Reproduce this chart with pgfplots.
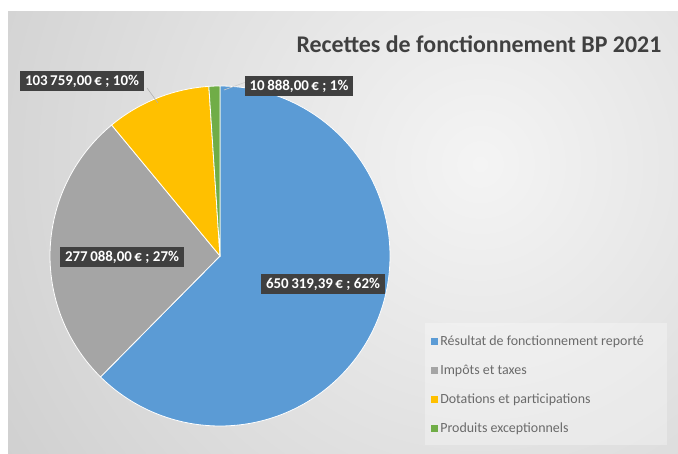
\documentclass[border=0pt]{standalone}
\usepackage{fontspec}
\setmainfont{Carlito}
\usepackage{pgfplots}
\usepackage{pgfplotstable}
\pgfplotsset{compat=1.18}

\definecolor{c0}{HTML}{5B9BD5}
\definecolor{c1}{HTML}{A5A5A5}
\definecolor{c2}{HTML}{FFC000}
\definecolor{c3}{HTML}{70AD47}
\definecolor{lblbg}{HTML}{404040}
\definecolor{txtgray}{HTML}{6A6A6A}
\definecolor{titlegray}{HTML}{404040}
\definecolor{bglight}{HTML}{F4F4F4}
\definecolor{bgdark}{HTML}{CCCCCC}

\pgfplotstableread[col sep=comma]{
name,value
Résultat de fonctionnement reporté,650319.39
Impôts et taxes,277088.00
Dotations et participations,103759.00
Produits exceptionnels,10888.00
}\recettes

% total, start/end angles (clockwise from 12 o'clock) and percentages
\def\total{0}
\pgfplotsforeachungrouped \i in {0,...,3}{%
  \pgfplotstablegetelem{\i}{value}\of\recettes
  \edef\total{\fpeval{\total+\pgfplotsretval}}%
}
\def\cum{0}
\pgfplotsforeachungrouped \i in {0,...,3}{%
  \expandafter\edef\csname angS\i\endcsname{\fpeval{90-360*\cum/\total}}%
  \pgfplotstablegetelem{\i}{value}\of\recettes
  \expandafter\let\csname val\i\endcsname\pgfplotsretval
  \expandafter\edef\csname pct\i\endcsname{\fpeval{round(100*\pgfplotsretval/\total)}}%
  \edef\cum{\fpeval{\cum+\pgfplotsretval}}%
  \expandafter\edef\csname angE\i\endcsname{\fpeval{90-360*\cum/\total}}%
}

\newcommand\lbl[1]{\pgfmathprintnumber[fixed,precision=2,fixed zerofill,use comma,1000 sep={\,},assume math mode=true]{\csname val#1\endcsname}\,€ ; \csname pct#1\endcsname\%}

\begin{document}
\begin{tikzpicture}
\begin{axis}[
    scale only axis,
    width=678bp, height=454bp,
    xmin=0, xmax=678, ymin=0, ymax=454,
    hide axis,
    clip=false,
    legend style={
        at={(axis description cs:0.627,0.278)}, anchor=north west,
        draw=none, fill=none,
        font=\fontsize{14}{16}\selectfont, text=txtgray,
        row sep=14bp, inner xsep=6bp, inner ysep=6bp,
        cells={anchor=west},
    },
]
% frame and background
\fill[white] (axis cs:0,0) rectangle (axis cs:678,454);
\path[path picture={\shade[inner color=bglight, outer color=bgdark] (axis cs:480,290) circle[radius=620bp];}]
    (axis cs:8,0) rectangle (axis cs:678,442);
\fill[white, opacity=0.3] (axis cs:425,9) rectangle (axis cs:667,131);

% slices
\pgfplotsinvokeforeach{0,...,3}{
  \fill[c#1, draw=white, line width=0.8bp] (axis cs:220,198)
      -- ++(\csname angS#1\endcsname:170bp)
      arc[start angle=\csname angS#1\endcsname, end angle=\csname angE#1\endcsname, radius=170bp]
      -- cycle;
}

% leader lines
\draw[gray!60, line width=0.6bp] (axis cs:147,366) -- (axis cs:158,351);
\draw[gray!40, line width=0.6bp] (axis cs:246,372) -- (axis cs:224,364);

% data labels
\tikzset{dlabel/.style={fill=lblbg, text=white, font=\fontsize{15}{16}\selectfont\bfseries, inner xsep=5bp, inner ysep=4bp}}
\node[dlabel] at (axis cs:323,170) {\lbl{0}};
\node[dlabel] at (axis cs:122,197) {\lbl{1}};
\node[dlabel] at (axis cs:82,373) {\lbl{2}};
\node[dlabel] at (axis cs:299,368) {\lbl{3}};

% title
\node[font=\fontsize{24}{28}\selectfont\bfseries, text=titlegray] at (axis cs:479,410) {Recettes de fonctionnement BP 2021};

% legend
\addlegendimage{legend image code/.code={\path[fill=c0, draw=none] (0bp,-3.5bp) rectangle (7bp,3.5bp);}}
\addlegendimage{legend image code/.code={\path[fill=c1, draw=none] (0bp,-3.5bp) rectangle (7bp,3.5bp);}}
\addlegendimage{legend image code/.code={\path[fill=c2, draw=none] (0bp,-3.5bp) rectangle (7bp,3.5bp);}}
\addlegendimage{legend image code/.code={\path[fill=c3, draw=none] (0bp,-3.5bp) rectangle (7bp,3.5bp);}}
\legend{Résultat de fonctionnement reporté, Impôts et taxes, Dotations et participations, Produits exceptionnels}
\end{axis}
\end{tikzpicture}
\end{document}
